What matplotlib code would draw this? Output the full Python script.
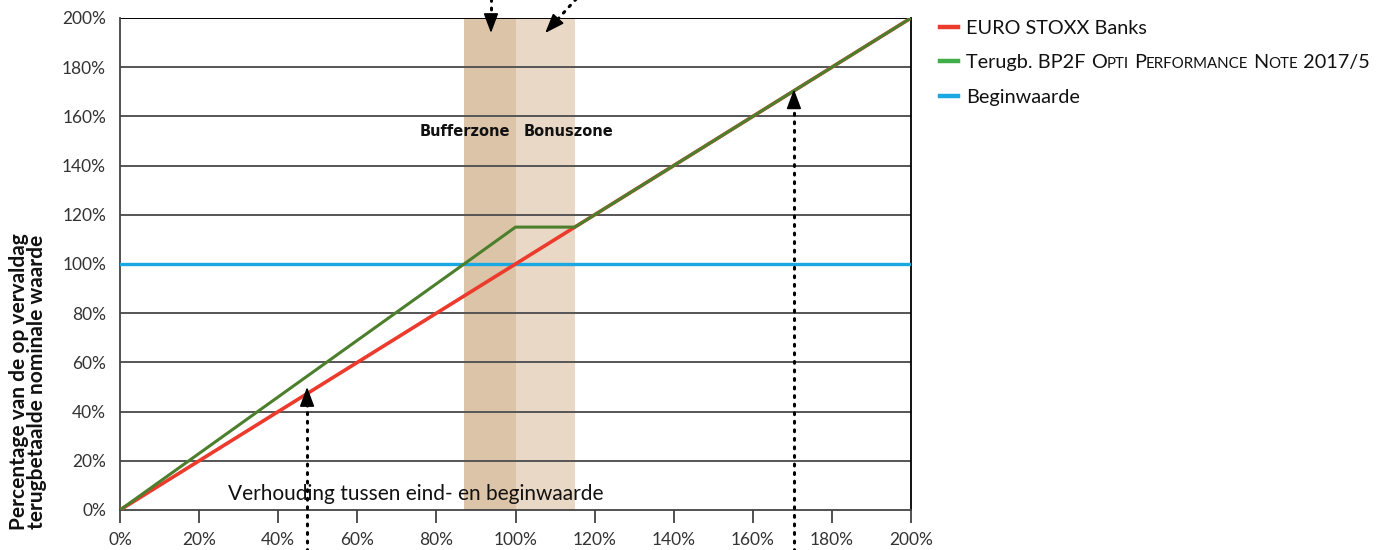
import numpy as np
import matplotlib
matplotlib.use("Agg")
from matplotlib import pyplot as plt

plt.rcParams['font.family'] = ['Lato', 'DejaVu Sans']

# data
ratio = [0, 200]
euro_stoxx = [0, 200]
note_x = [0, 87, 100, 115, 200]
note_y = [0, 100, 115, 115, 200]
begin_level = 100
buffer_zone = (87, 100)
bonus_zone = (100, 115)
yticks = list(range(0, 201, 20))
xticks = list(range(0, 201, 20))

red = '#ec3b2d'
green_line = '#4b7f2c'
green_leg = '#3fae49'
blue = '#1aa8e3'

fig = plt.figure(figsize=(13.82, 5.5), dpi=100)
ax = fig.add_axes([120/1382, 1-510/550, 791/1382, 492/550])

ax.axvspan(*buffer_zone, color='#dcc4a8', lw=0, zorder=0)
ax.axvspan(*bonus_zone, color='#e9d8c5', lw=0, zorder=0)

for v in yticks[1:-1]:
    ax.axhline(v, color='#555555', lw=1.4, zorder=1)
ax.axhline(200, color='black', lw=1.4, zorder=1)

ax.plot(ratio, [begin_level, begin_level], color=blue, lw=2.4, zorder=3)
ax.plot(ratio, euro_stoxx, color=red, lw=2.6, zorder=4)
ax.plot(note_x, note_y, color=green_line, lw=2.2, zorder=5)

ax.set_xlim(0, 200)
ax.set_ylim(0, 200)
ax.set_xticks(xticks)
ax.set_xticklabels([f'{t}%' for t in xticks])
ax.set_yticks(yticks)
ax.set_yticklabels([f'{t}%' for t in yticks])
ax.tick_params(axis='x', length=9, width=1.2, color='#333333', labelsize=12.5,
               labelcolor='#333333', pad=7)
ax.tick_params(axis='y', length=0, labelsize=12.5, labelcolor='#333333', pad=10)
for s in ['left', 'bottom']:
    ax.spines[s].set_color('#444444')
    ax.spines[s].set_linewidth(1.3)
ax.spines['right'].set_color('black')
ax.spines['right'].set_linewidth(1.3)
ax.spines['top'].set_visible(False)

ax.text(74.8, 6.5, 'Verhouding tussen eind- en beginwaarde', ha='center', va='center',
        fontsize=15, color='#111111', zorder=6)
ax.text(87.2, 153.7, 'Bufferzone', ha='center', va='center', fontsize=10.5,
        fontweight='bold', color='#111111', family=['DejaVu Sans'])
ax.text(113.3, 153.7, 'Bonuszone', ha='center', va='center', fontsize=10.5,
        fontweight='bold', color='#111111', family=['DejaVu Sans'])

ax.text(-0.116, 0.26, 'Percentage van de op vervaldag\nterugbetaalde nominale waarde',
        transform=ax.transAxes, rotation=90, ha='center', va='center',
        fontsize=15, fontweight='bold', linespacing=0.9, color='#111111')

# dotted arrows
def arrow(x0, y0, x1, y1):
    dx, dy = x1 - x0, y1 - y0
    n = np.hypot(dx, dy)
    hx, hy = x1 - dx / n * 6, y1 - dy / n * 6
    ax.plot([x0, hx], [y0, hy], color='black', lw=2.2, ls=(0, (0.6, 2.2)),
            dash_capstyle='round', clip_on=False, zorder=7)
    ax.annotate('', xy=(x1, y1), xytext=(hx, hy),
                arrowprops=dict(arrowstyle='-|>,head_length=1.2,head_width=0.45',
                                color='black', lw=1.2, shrinkA=0, shrinkB=0),
                annotation_clip=False, zorder=7)

arrow(47.3, -17, 47.3, 50)
arrow(170.4, -17, 170.4, 171)
arrow(93.8, 208, 93.8, 193.9)
arrow(115.5, 208, 107.5, 193.9)

# legend
fig.canvas.draw()
r = fig.canvas.get_renderer()
def fx(p):
    return p / 1382
def fy(p):
    return 1 - p / 550

leg_items = [('EURO STOXX Banks', red), (None, green_leg), ('Beginwaarde', blue)]
rows = [27, 61, 96]
for (lab, c), yp in zip(leg_items, rows):
    fig.add_artist(plt.Line2D([fx(940), fx(958)], [fy(yp), fy(yp)], color=c, lw=3.2,
                              transform=fig.transFigure))
    if lab is not None:
        fig.text(fx(966), fy(yp + 7), lab, fontsize=14.3, va='baseline', color='#111111')

pieces = [('Terugb. BP2F ', 14.3), ('O', 14.3), ('PTI', 10.8), (' ', 14.3), ('P', 14.3),
          ('ERFORMANCE', 10.8), (' ', 14.3), ('N', 14.3), ('OTE', 10.8), (' 2017/5', 14.3)]
xp = 966
for txt, fs in pieces:
    t = fig.text(fx(xp), fy(rows[1] + 7), txt, fontsize=fs, va='baseline', color='#111111')
    xp += t.get_window_extent(r).width

fig.savefig('out.png', dpi=100)
